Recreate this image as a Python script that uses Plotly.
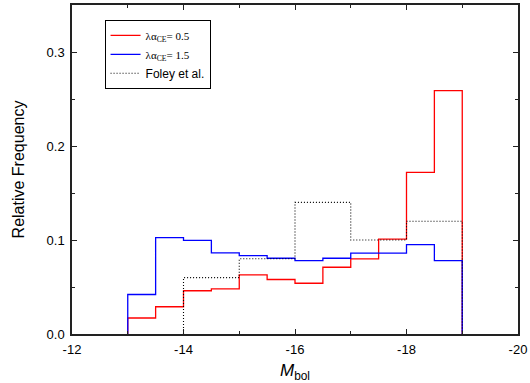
import plotly.graph_objects as go

# Bin edges (M_bol) for simulated distributions (0.5 mag bins)
sim_edges = [-13.0, -13.5, -14.0, -14.5, -15.0, -15.5, -16.0, -16.5, -17.0, -17.5, -18.0, -18.5, -19.0]
red_values = [0.017, 0.029, 0.046, 0.048, 0.063, 0.058, 0.054, 0.071, 0.080, 0.101, 0.172, 0.259]
blue_values = [0.042, 0.1025, 0.0995, 0.0863, 0.0834, 0.0806, 0.078, 0.0806, 0.086, 0.086, 0.095, 0.078]

# Foley et al. (1 mag bins)
foley_edges = [-14.0, -15.0, -16.0, -17.0, -18.0, -19.0]
foley_values = [0.06, 0.08, 0.14, 0.10, 0.12]

x_ticks = [-12, -14, -16, -18, -20]
y_ticks = [0.0, 0.1, 0.2, 0.3]


def step_xy(edges, values):
    xs, ys = [edges[0]], [0.0]
    for i, v in enumerate(values):
        xs += [edges[i], edges[i + 1]]
        ys += [v, v]
    xs.append(edges[-1])
    ys.append(0.0)
    return xs, ys


fig = go.Figure()
sans = "Arial, Liberation Sans, sans-serif"
serif = "Times New Roman, Liberation Serif, serif"

rx, ry = step_xy(sim_edges, red_values)
bx, by = step_xy(sim_edges, blue_values)
fx, fy = step_xy(foley_edges, foley_values)

fig.add_trace(go.Scatter(x=rx, y=ry, mode="lines", line=dict(color="#ff0000", width=1.3),
                         name="λα<sub>CE</sub>= 0.5"))
fig.add_trace(go.Scatter(x=bx, y=by, mode="lines", line=dict(color="#0000ff", width=1.3),
                         name="λα<sub>CE</sub>= 1.5"))
fig.add_trace(go.Scatter(x=fx, y=fy, mode="lines", line=dict(color="#000000", width=1.1, dash="1px,2px"),
                         name='<span style="font-family:Arial, Liberation Sans, sans-serif;font-size:12px">Foley et al.</span>'))

axis_common = dict(
    showline=True, linecolor="#222222", linewidth=1.5, mirror="ticks",
    ticks="inside", ticklen=5, tickwidth=1.2, tickcolor="#222222",
    showgrid=False, zeroline=False,
    tickfont=dict(family=sans, size=13, color="#000"),
    ticklabeloverflow="allow",
)

fig.update_xaxes(
    range=[-12, -20], tickvals=x_ticks, ticktext=[str(t) for t in x_ticks],
    minor=dict(ticks="inside", ticklen=3, tickwidth=1.2, tickcolor="#222222", dtick=1, tick0=-12),
    title=dict(text="<i>M</i><sub>bol</sub>", font=dict(family=sans, size=17, color="#000"), standoff=8),
    ticklabelstandoff=3,
    **axis_common,
)
fig.update_yaxes(
    range=[0, 0.35], tickvals=y_ticks, ticktext=["0.0", "0.1", "0.2", "0.3"],
    minor=dict(ticks="inside", ticklen=3, tickwidth=1.2, tickcolor="#222222", dtick=0.05, tick0=0),
    title=dict(text="Relative Frequency", font=dict(family=sans, size=16, color="#000"), standoff=18),
    ticklabelstandoff=3,
    **axis_common,
)

fig.update_layout(
    width=530, height=383,
    margin=dict(l=72, r=9, t=3, b=49),
    paper_bgcolor="white", plot_bgcolor="white",
    showlegend=True,
    legend=dict(
        x=0.073, y=0.955, xanchor="left", yanchor="top",
        bordercolor="#000", borderwidth=1, bgcolor="white",
        font=dict(family=serif, size=11, color="#000"),
        tracegroupgap=0, itemwidth=30,
    ),
)

fig.write_html(
    "out.html",
    config={"displayModeBar": False},
    post_script="document.body.style.margin='0';document.body.style.padding='0';",
)
